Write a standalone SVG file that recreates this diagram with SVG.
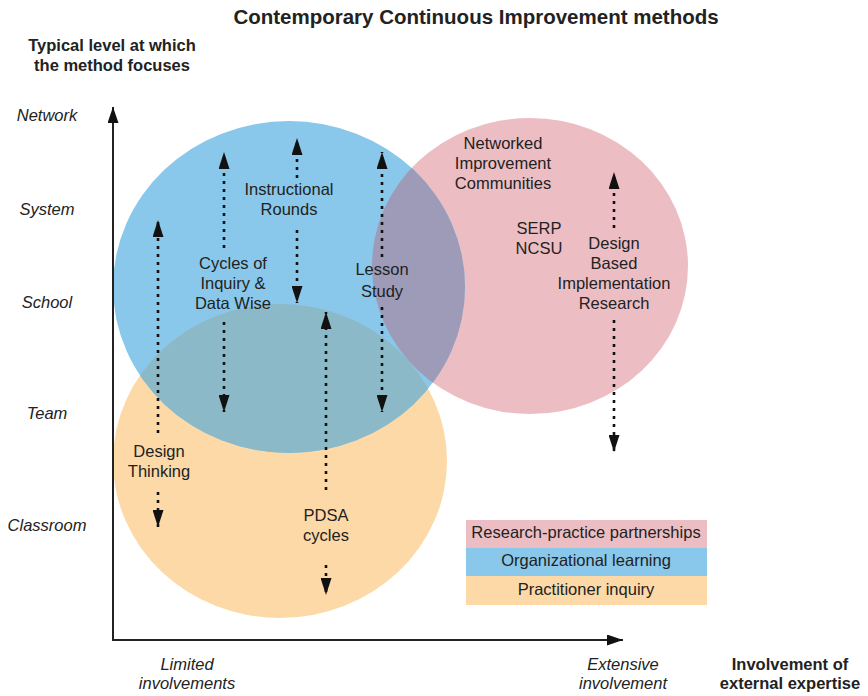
<svg xmlns="http://www.w3.org/2000/svg" width="868" height="696" viewBox="0 0 868 696">
<style>
text{font-family:"Liberation Sans",Arial,sans-serif;fill:#222;}
.t{font-size:16.5px;text-anchor:middle;}
.it{font-size:16.5px;font-style:italic;text-anchor:middle;}
.b{font-size:16.5px;font-weight:bold;text-anchor:middle;}
.dot{stroke:#111;stroke-width:2.6;stroke-dasharray:3 5;fill:none;marker-end:url(#ah);}
.axis{stroke:#222;stroke-width:2;fill:none;marker-end:url(#ax);}
</style>
<defs>
<marker id="ah" viewBox="0 0 17 11" refX="17" refY="5.5" markerWidth="17" markerHeight="11" markerUnits="userSpaceOnUse" orient="auto">
<path d="M0,0 L17,5.5 L0,11 Z" fill="#111" stroke="none"/>
</marker>
<marker id="ax" viewBox="0 0 16 11" refX="16" refY="5.5" markerWidth="16" markerHeight="11" markerUnits="userSpaceOnUse" orient="auto">
<path d="M0,0 L16,5.5 L0,11 Z" fill="#111" stroke="none"/>
</marker>
<clipPath id="cBlue"><ellipse cx="289" cy="287" rx="176" ry="166"/></clipPath>
</defs>
<rect width="868" height="696" fill="#fff"/>

<g id="circles">
<g id="practitioner-inquiry"><ellipse cx="280" cy="461" rx="167" ry="157" fill="#fcd9a7"/></g>
<g id="research-practice"><ellipse cx="530" cy="266" rx="158" ry="148" fill="#ecbec4"/></g>
<g id="organizational-learning">
<ellipse cx="289" cy="287" rx="176" ry="166" fill="#89c8ea"/>
<g clip-path="url(#cBlue)">
<ellipse cx="280" cy="461" rx="167" ry="157" fill="#8cb9c8"/>
<ellipse cx="530" cy="266" rx="158" ry="148" fill="#9d9bb8"/>
</g>
</g>
</g>

<g id="title">
<text x="476" y="24" font-size="20.5" font-weight="bold" text-anchor="middle">Contemporary Continuous Improvement methods</text>
</g>
<g id="y-title">
<text class="b" x="112" y="51">Typical level at which</text>
<text class="b" x="112" y="71">the method focuses</text>
</g>
<g id="y-labels">
<text class="it" x="47" y="121">Network</text>
<text class="it" x="47" y="215">System</text>
<text class="it" x="47" y="308">School</text>
<text class="it" x="47" y="419">Team</text>
<text class="it" x="47" y="531">Classroom</text>
</g>
<g id="x-labels">
<text class="it" x="187" y="670">Limited</text>
<text class="it" x="187" y="689">involvements</text>
<text class="it" x="623" y="670">Extensive</text>
<text class="it" x="623" y="689">involvement</text>
<text class="b" x="790" y="670">Involvement of</text>
<text class="b" x="790" y="689">external expertise</text>
</g>

<g id="connectors">
<path class="axis" d="M113,640 L113,107"/>
<path class="axis" d="M112,640 L623,640"/>
<path class="dot" d="M158,433 L158,220"/>
<path class="dot" d="M158,492 L158,527"/>
<path class="dot" d="M224,248 L224,152"/>
<path class="dot" d="M224,322 L224,412"/>
<path class="dot" d="M297,178 L297,138"/>
<path class="dot" d="M297,230 L297,303"/>
<path class="dot" d="M382,257 L382,152"/>
<path class="dot" d="M382,307 L382,412"/>
<path class="dot" d="M326,490 L326,312"/>
<path class="dot" d="M326,565 L326,595"/>
<path class="dot" d="M614,228 L614,172"/>
<path class="dot" d="M614,320 L614,452"/>
</g>

<g id="design-thinking">
<text class="t" x="159" y="457">Design</text>
<text class="t" x="159" y="477">Thinking</text>
</g>
<g id="cycles-of-inquiry">
<text class="t" x="233" y="269">Cycles of</text>
<text class="t" x="233" y="289">Inquiry &amp;</text>
<text class="t" x="233" y="309">Data Wise</text>
</g>
<g id="instructional-rounds">
<text class="t" x="289" y="195">Instructional</text>
<text class="t" x="289" y="215">Rounds</text>
</g>
<g id="lesson-study">
<text class="t" x="382" y="275">Lesson</text>
<text class="t" x="382" y="297">Study</text>
</g>
<g id="pdsa-cycles">
<text class="t" x="326" y="521">PDSA</text>
<text class="t" x="326" y="541">cycles</text>
</g>
<g id="networked-improvement">
<text class="t" x="503" y="149">Networked</text>
<text class="t" x="503" y="169">Improvement</text>
<text class="t" x="503" y="189">Communities</text>
</g>
<g id="serp-ncsu">
<text class="t" x="539" y="234">SERP</text>
<text class="t" x="539" y="254">NCSU</text>
</g>
<g id="dbir">
<text class="t" x="614" y="249">Design</text>
<text class="t" x="614" y="269">Based</text>
<text class="t" x="614" y="289">Implementation</text>
<text class="t" x="614" y="309">Research</text>
</g>

<g id="legend">
<rect x="466" y="520" width="241" height="28" fill="#ecbec4"/>
<rect x="466" y="548" width="241" height="28" fill="#89c8ea"/>
<rect x="466" y="576" width="241" height="29" fill="#fcd9a7"/>
<text class="t" x="586" y="538">Research-practice partnerships</text>
<text class="t" x="586" y="566">Organizational learning</text>
<text class="t" x="586" y="595">Practitioner inquiry</text>
</g>
</svg>
